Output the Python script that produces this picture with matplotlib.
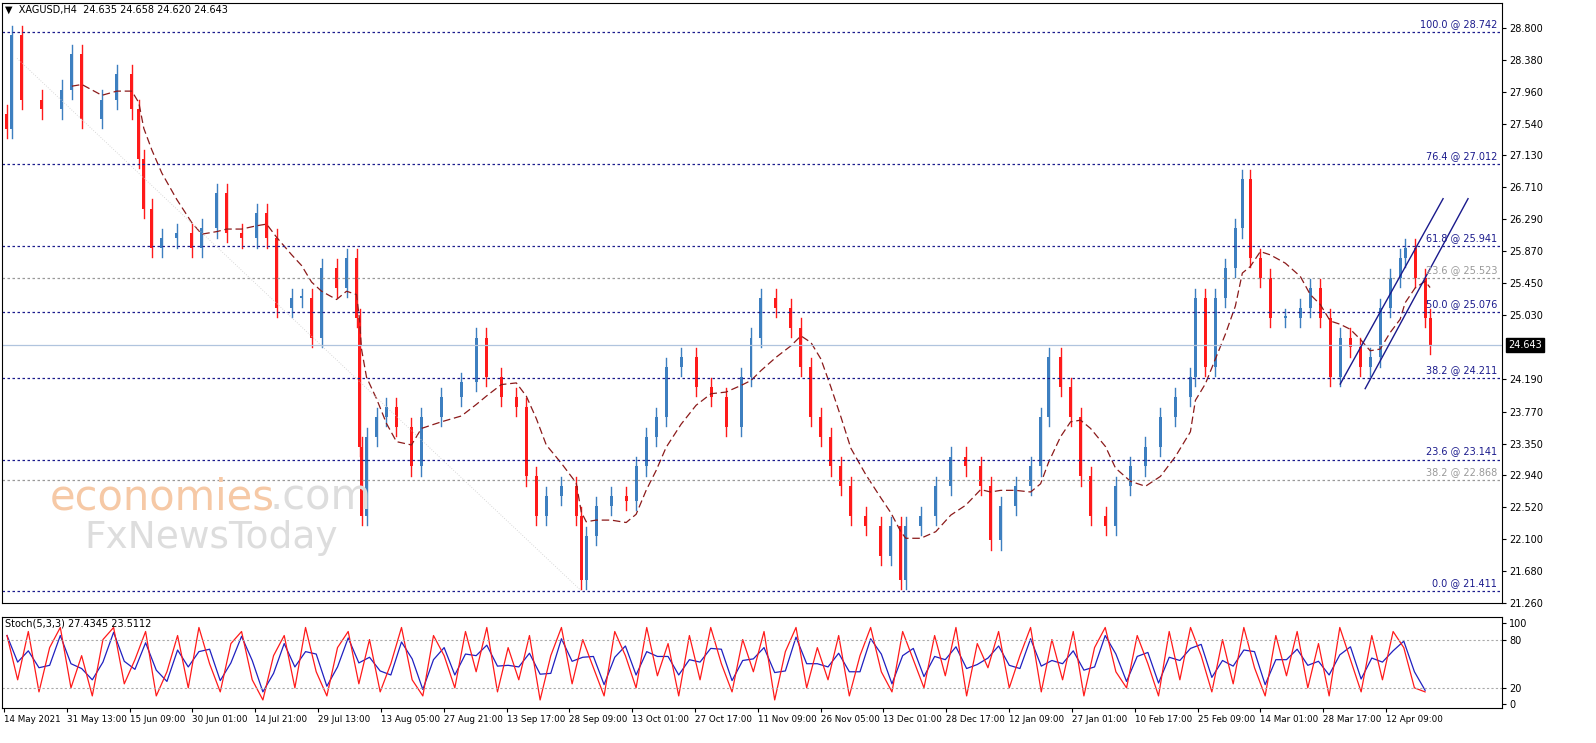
import matplotlib
matplotlib.use("Agg")
import matplotlib.pyplot as plt
import numpy as np

W, H = 1596, 743

# bar positions (chart x, pixel-like time scale) and closes
bar_x = [5, 10, 20, 40, 60, 70, 80, 100, 115, 130, 137, 142, 150, 160, 175, 190, 200, 215, 225, 240,
         255, 265, 275, 290, 300, 310, 320, 335, 345, 355, 358, 360, 365, 375, 385, 395, 410, 420, 440, 460,
         475, 485, 500, 515, 525, 535, 545, 560, 575, 580, 585, 595, 610, 625, 635, 645, 655, 665, 680, 695,
         710, 725, 740, 750, 760, 775, 790, 800, 810, 820, 830, 840, 850, 865, 880, 890, 900, 905, 920, 935,
         950, 965, 980, 990, 1000, 1015, 1030, 1040, 1048, 1060, 1070, 1080, 1090, 1105, 1115, 1130, 1145, 1160, 1175, 1190,
         1195, 1205, 1215, 1225, 1235, 1242, 1250, 1260, 1270, 1285, 1300, 1310, 1320, 1330, 1340, 1350, 1360, 1370, 1380, 1390,
         1400, 1405, 1415, 1425, 1430]
closes = [27.47, 28.71, 27.86, 27.73, 27.99, 28.45, 27.60, 27.86, 28.19, 27.73, 27.08, 26.43, 25.91, 26.04, 26.11, 25.91, 26.17, 26.63, 26.11, 26.04,
          26.37, 26.04, 25.13, 25.26, 25.26, 24.74, 25.65, 25.39, 25.78, 25.00, 23.31, 22.40, 23.44, 23.70, 23.83, 23.57, 23.05, 23.70, 23.96, 24.16,
          24.74, 24.22, 23.96, 23.83, 22.92, 22.40, 22.66, 22.79, 22.40, 21.56, 22.14, 22.53, 22.66, 22.60, 23.05, 23.44, 23.70, 24.35, 24.48, 24.09,
          23.96, 23.57, 24.22, 24.74, 25.26, 25.13, 24.87, 24.35, 23.70, 23.44, 23.05, 22.79, 22.40, 22.27, 21.88, 22.27, 21.56, 22.27, 22.40, 22.79,
          23.18, 23.05, 22.79, 22.08, 22.53, 22.79, 23.05, 23.70, 24.48, 24.09, 23.70, 22.92, 22.40, 22.27, 22.79, 23.05, 23.31, 23.70, 23.96, 24.22,
          25.26, 24.35, 25.26, 25.65, 26.17, 26.82, 25.78, 25.52, 25.00, 25.00, 25.13, 25.39, 25.00, 24.22, 24.74, 24.61, 24.35, 24.48, 25.13, 25.52,
          25.78, 25.91, 25.52, 25.00, 24.64]

fib_levels = [28.742, 27.012, 25.941, 25.076, 24.211, 23.141, 21.411]
fib_labels = ["100.0 @ 28.742", "76.4 @ 27.012", "61.8 @ 25.941", "50.0 @ 25.076",
              "38.2 @ 24.211", "23.6 @ 23.141", "0.0 @ 21.411"]
grey_levels = [25.523, 22.868]
grey_labels = ["23.6 @ 25.523", "38.2 @ 22.868"]
last_price = 24.643
price_ticks = [21.260, 21.680, 22.100, 22.520, 22.940, 23.350, 23.770, 24.190, 25.030,
               25.450, 25.870, 26.290, 26.710, 27.130, 27.540, 27.960, 28.380, 28.800]

stoch = [85, 30, 90, 15, 70, 95, 20, 60, 10, 80, 95, 25, 55, 90, 10, 40, 85, 20, 95, 50,
         15, 75, 90, 30, 5, 60, 85, 20, 95, 40, 10, 70, 90, 25, 80, 15, 50, 95, 30, 10,
         85, 60, 20, 90, 40, 95, 15, 70, 30, 85, 5, 60, 95, 25, 80, 45, 10, 90, 60, 20,
         95, 35, 75, 10, 85, 30, 95, 50, 15, 80, 40, 90, 5, 65, 95, 20, 70, 30, 85, 10,
         60, 95, 40, 15, 90, 55, 20, 85, 35, 95, 10, 75, 45, 90, 20, 60, 95, 15, 80, 30,
         90, 10, 70, 95, 40, 20, 85, 50, 10, 90, 30, 95, 60, 15, 80, 25, 95, 45, 10, 85,
         35, 90, 20, 75, 10, 95, 55, 15, 85, 30, 90, 70, 20, 15]

date_labels = ["14 May 2021", "31 May 13:00", "15 Jun 09:00", "30 Jun 01:00", "14 Jul 21:00",
               "29 Jul 13:00", "13 Aug 05:00", "27 Aug 21:00", "13 Sep 17:00", "28 Sep 09:00",
               "13 Oct 01:00", "27 Oct 17:00", "11 Nov 09:00", "26 Nov 05:00", "13 Dec 01:00",
               "28 Dec 17:00", "12 Jan 09:00", "27 Jan 01:00", "10 Feb 17:00", "25 Feb 09:00",
               "14 Mar 01:00", "28 Mar 17:00", "12 Apr 09:00"]

BULL, BEAR, NAVY = "#3d7fc0", "#ff1a1a", "#1a1a8c"
XMAX = 1502

fig = plt.figure(figsize=(W / 100, H / 100), dpi=100)
ax = fig.add_axes([2 / W, 1 - 603 / H, (XMAX - 2) / W, 600 / H])
axs = fig.add_axes([2 / W, 1 - 708 / H, (XMAX - 2) / W, 91 / H])
for a in (ax, axs):
    a.set_xlim(0, XMAX)
    for s in a.spines.values():
        s.set_linewidth(0.8)
    a.yaxis.tick_right()
    a.tick_params(labelsize=7, length=3, direction="out", pad=2)
ax.set_ylim(21.325, 29.125)

# candles
prev = closes[0]
for i, (x, c) in enumerate(zip(bar_x, closes)):
    o = prev if i else c + 0.2
    col = BULL if c >= o else BEAR
    hi, lo = max(o, c) + 0.12, min(o, c) - 0.12
    ax.plot([x, x], [lo, hi], color=col, lw=1.0)
    ax.add_patch(plt.Rectangle((x - 1.5, min(o, c)), 3, max(abs(c - o), 0.02), color=col, lw=0))
    prev = c

# moving average
ma = np.convolve(closes, np.ones(6) / 6, mode="valid")
ax.plot(bar_x[5:], ma, color="#8b1a1a", lw=0.9, ls=(0, (6, 3)))

for lv, lb in zip(fib_levels, fib_labels):
    ax.axhline(lv, color=NAVY, lw=0.9, ls=(0, (2, 2)))
    ax.text(1497, lv + 0.04, lb, ha="right", va="bottom", fontsize=7, color=NAVY)
for lv, lb in zip(grey_levels, grey_labels):
    ax.axhline(lv, color="#999999", lw=0.9, ls=(0, (2, 2)))
    ax.text(1497, lv + 0.04, lb, ha="right", va="bottom", fontsize=7, color="#999999")
ax.axhline(last_price, color="#b0c4de", lw=0.9)
ax.text(1.004, last_price, f"{last_price:.3f}", transform=ax.get_yaxis_transform(), ha="left",
        va="center", fontsize=7, color="white", bbox=dict(fc="black", ec="black", pad=1.5))

# channel
ax.plot([1340, 1443], [24.13, 26.56], color=NAVY, lw=1.0)
ax.plot([1365, 1468], [24.07, 26.56], color=NAVY, lw=1.0)
ax.plot([15, 580], [28.40, 21.42], color="#cccccc", lw=0.6, ls=(0, (1, 2)))

ax.set_yticks(price_ticks)
ax.set_yticklabels([f"{t:.3f}" for t in price_ticks])
ax.set_xticks([])
ax.text(0.002, 0.997, "\u25bc  XAGUSD,H4  24.635 24.658 24.620 24.643", transform=ax.transAxes,
        ha="left", va="top", fontsize=7)

# watermark
ax.text(48, 22.48, "economies", fontsize=30, color="#f6c9a6", ha="left", va="baseline")
ax.text(268, 22.48, ".com", fontsize=30, color="#dddddd", ha="left", va="baseline")
ax.text(82, 21.98, "FxNewsToday", fontsize=27, color="#dddddd", ha="left", va="baseline")

# stochastic: %K red, signal blue (short average of %K)
sx = np.linspace(5, 1425, len(stoch))
sig = np.array(stoch, dtype=float)
sig[1:] = (sig[1:] * 0.6 + np.array(stoch[:-1]) * 0.4)
axs.plot(sx, sig, color="#2020c0", lw=0.9)
axs.plot(sx, stoch, color=BEAR, lw=0.9)
for lv in (20, 80):
    axs.axhline(lv, color="#aaaaaa", lw=0.8, ls=(0, (2, 2)))
axs.set_ylim(-5, 108)
axs.set_yticks([0, 20, 80, 100])
axs.text(0.002, 0.98, "Stoch(5,3,3) 27.4345 23.5112", transform=axs.transAxes, ha="left", va="top", fontsize=7)

tick_x = [2 + 62.9 * k for k in range(len(date_labels))]
axs.set_xticks(tick_x)
axs.set_xticklabels(date_labels, ha="left", fontsize=6.3)

fig.savefig("out.png", dpi=100)
